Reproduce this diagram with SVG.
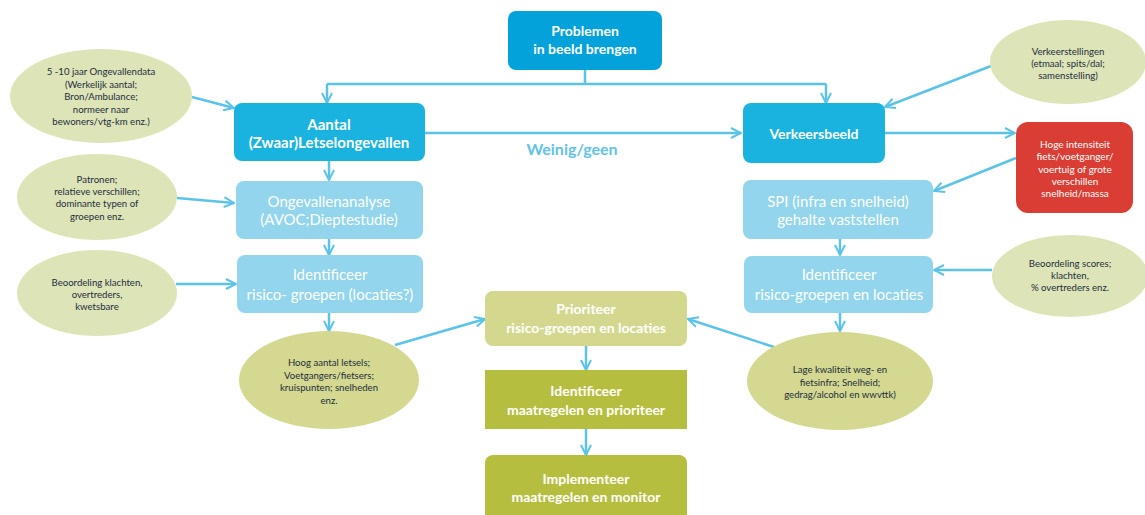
<svg xmlns="http://www.w3.org/2000/svg" width="1145" height="515" viewBox="0 0 1145 515">
<style>
.bt{font-family:Lato,"Liberation Sans",sans-serif;font-weight:bold;fill:#fff;text-anchor:middle}
.nt{font-family:Lato,"Liberation Sans",sans-serif;fill:#fff;text-anchor:middle}
.et{font-family:Lato,"Liberation Sans",sans-serif;fill:#1e2d3d;text-anchor:middle;font-size:9.6px}
.rt{font-family:Lato,"Liberation Sans",sans-serif;fill:#fff;text-anchor:middle;font-size:10px}
.c{fill:none;stroke:#5cc3e8;stroke-width:2.5}
.ca{fill:none;stroke:#5cc3e8;stroke-width:2.5;marker-end:url(#ah)}
</style>
<defs>
<marker id="ah" viewBox="0 0 12 12" refX="11" refY="6" markerWidth="12" markerHeight="12" orient="auto" markerUnits="userSpaceOnUse">
<path d="M1,1 L11,6 L1,11" fill="none" stroke="#5cc3e8" stroke-width="2"/>
</marker>
</defs>
<rect width="1145" height="515" fill="#fff"/>
<g id="connectors">
<path class="c" d="M585,70 V84 M327,84 H826"/>
<path class="ca" d="M327,84 V103"/>
<path class="ca" d="M826,84 V103"/>
<path class="ca" d="M425,133 H741"/>
<path class="ca" d="M885,133 H1015"/>
<path class="ca" d="M1016,158 L934,191"/>
<path class="ca" d="M991,66 L885,107"/>
<path class="ca" d="M840,239 V255"/>
<path class="ca" d="M992,270 H934"/>
<path class="ca" d="M840,313 V331"/>
<path class="ca" d="M774,347 L688,319"/>
<path class="ca" d="M586,346 V370"/>
<path class="ca" d="M586,429 V455"/>
<path class="ca" d="M192,97 L234,108"/>
<path class="ca" d="M329,161 V180"/>
<path class="ca" d="M177,198 L234,203"/>
<path class="ca" d="M329,239 V255"/>
<path class="ca" d="M176,284 H236"/>
<path class="ca" d="M329,313 V331"/>
<path class="ca" d="M395,345 L485,319"/>
<text x="572" y="155" font-family="Lato,'Liberation Sans',sans-serif" font-weight="bold" font-size="16" fill="#62c2e8" text-anchor="middle">Weinig/geen</text>
</g>
<g id="problemen">
<rect x="508" y="11" width="154" height="59" rx="8" fill="#03a2da"/>
<text class="bt" font-size="14" x="585" y="36">Problemen</text>
<text class="bt" font-size="14" x="585" y="54">in beeld brengen</text>
</g>
<g id="aantal">
<rect x="234" y="103" width="191" height="58" rx="8" fill="#1ab3df"/>
<text class="bt" font-size="15" x="329" y="130">Aantal</text>
<text class="bt" font-size="15" x="329" y="148">(Zwaar)Letselongevallen</text>
</g>
<g id="verkeersbeeld">
<rect x="743" y="103" width="142" height="60" rx="8" fill="#1ab3df"/>
<text class="bt" font-size="14" x="814" y="139">Verkeersbeeld</text>
</g>
<g id="hoge">
<rect x="1016" y="122" width="117" height="91" rx="12" fill="#d93d33"/>
<text class="rt" x="1075" y="148">Hoge intensiteit</text>
<text class="rt" x="1075" y="160">fiets/voetganger/</text>
<text class="rt" x="1075" y="173">voertuig of grote</text>
<text class="rt" x="1075" y="185">verschillen</text>
<text class="rt" x="1075" y="197">snelheid/massa</text>
</g>
<g id="verkeerstellingen">
<ellipse cx="1068" cy="62" rx="78" ry="42" fill="#dde4b7"/>
<text class="et" x="1068" y="55">Verkeerstellingen</text>
<text class="et" x="1068" y="67">(etmaal; spits/dal;</text>
<text class="et" x="1068" y="79">samenstelling)</text>
</g>
<g id="spi">
<rect x="743" y="180" width="190" height="59" rx="8" fill="#92d5ec"/>
<text class="nt" font-size="15" x="838" y="207">SPI (infra en snelheid)</text>
<text class="nt" font-size="15" x="838" y="225">gehalte vaststellen</text>
</g>
<g id="identificeer-rechts">
<rect x="744" y="256" width="189" height="57" rx="8" fill="#92d5ec"/>
<text class="nt" font-size="15" x="839" y="280">Identificeer</text>
<text class="nt" font-size="15" x="839" y="300">risico-groepen en locaties</text>
</g>
<g id="beoordeling-scores">
<ellipse cx="1070" cy="276" rx="78" ry="41" fill="#dde4b7"/>
<text class="et" x="1070" y="267">Beoordeling scores;</text>
<text class="et" x="1070" y="279">klachten,</text>
<text class="et" x="1070" y="291">% overtreders enz.</text>
</g>
<g id="lage">
<ellipse cx="840" cy="381" rx="93" ry="49" fill="#d4d890"/>
<text class="et" x="840" y="373">Lage kwaliteit weg- en</text>
<text class="et" x="840" y="386">fietsinfra; Snelheid;</text>
<text class="et" x="840" y="398">gedrag/alcohol en wwvttk)</text>
</g>
<g id="prioriteer">
<rect x="485" y="291" width="202" height="55" rx="8" fill="#d4d88f"/>
<text class="bt" font-size="14" x="586" y="314">Prioriteer</text>
<text class="bt" font-size="14" x="586" y="333">risico-groepen en locaties</text>
</g>
<g id="identificeer-maatregelen">
<rect x="485" y="370" width="202" height="59" fill="#b5be3e"/>
<text class="bt" font-size="14" x="586" y="396">Identificeer</text>
<text class="bt" font-size="14" x="586" y="415">maatregelen en prioriteer</text>
</g>
<g id="implementeer">
<rect x="485" y="455" width="202" height="75" rx="8" fill="#b5be3e"/>
<text class="bt" font-size="14" x="586" y="484">Implementeer</text>
<text class="bt" font-size="14" x="586" y="502">maatregelen en monitor</text>
</g>
<g id="ongevallendata">
<ellipse cx="101" cy="96" rx="91" ry="47" fill="#dde4b7"/>
<text class="et" x="101" y="75">5 -10 jaar Ongevallendata</text>
<text class="et" x="101" y="88">(Werkelijk aantal;</text>
<text class="et" x="101" y="100">Bron/Ambulance;</text>
<text class="et" x="101" y="113">normeer naar</text>
<text class="et" x="101" y="125">bewoners/vtg-km enz.)</text>
</g>
<g id="ongevallenanalyse">
<rect x="236" y="181" width="187" height="58" rx="8" fill="#92d5ec"/>
<text class="nt" font-size="15" x="329" y="207">Ongevallenanalyse</text>
<text class="nt" font-size="15" x="329" y="225">(AVOC;Dieptestudie)</text>
</g>
<g id="patronen">
<ellipse cx="97" cy="197" rx="80" ry="43" fill="#dde4b7"/>
<text class="et" x="97" y="183">Patronen;</text>
<text class="et" x="97" y="195">relatieve verschillen;</text>
<text class="et" x="97" y="207">dominante typen of</text>
<text class="et" x="97" y="220">groepen enz.</text>
</g>
<g id="identificeer-links">
<rect x="237" y="255" width="186" height="58" rx="8" fill="#92d5ec"/>
<text class="nt" font-size="15" x="330" y="280">Identificeer</text>
<text class="nt" font-size="15" x="330" y="300">risico- groepen (locaties?)</text>
</g>
<g id="beoordeling-klachten">
<ellipse cx="97" cy="293" rx="80" ry="43" fill="#dde4b7"/>
<text class="et" x="97" y="286">Beoordeling klachten,</text>
<text class="et" x="97" y="298">overtreders,</text>
<text class="et" x="97" y="310">kwetsbare</text>
</g>
<g id="hoog">
<ellipse cx="329" cy="380" rx="90" ry="49" fill="#d4d890"/>
<text class="et" x="329" y="366">Hoog aantal letsels;</text>
<text class="et" x="329" y="379">Voetgangers/fietsers;</text>
<text class="et" x="329" y="391">kruispunten; snelheden</text>
<text class="et" x="329" y="404">enz.</text>
</g>
</svg>
